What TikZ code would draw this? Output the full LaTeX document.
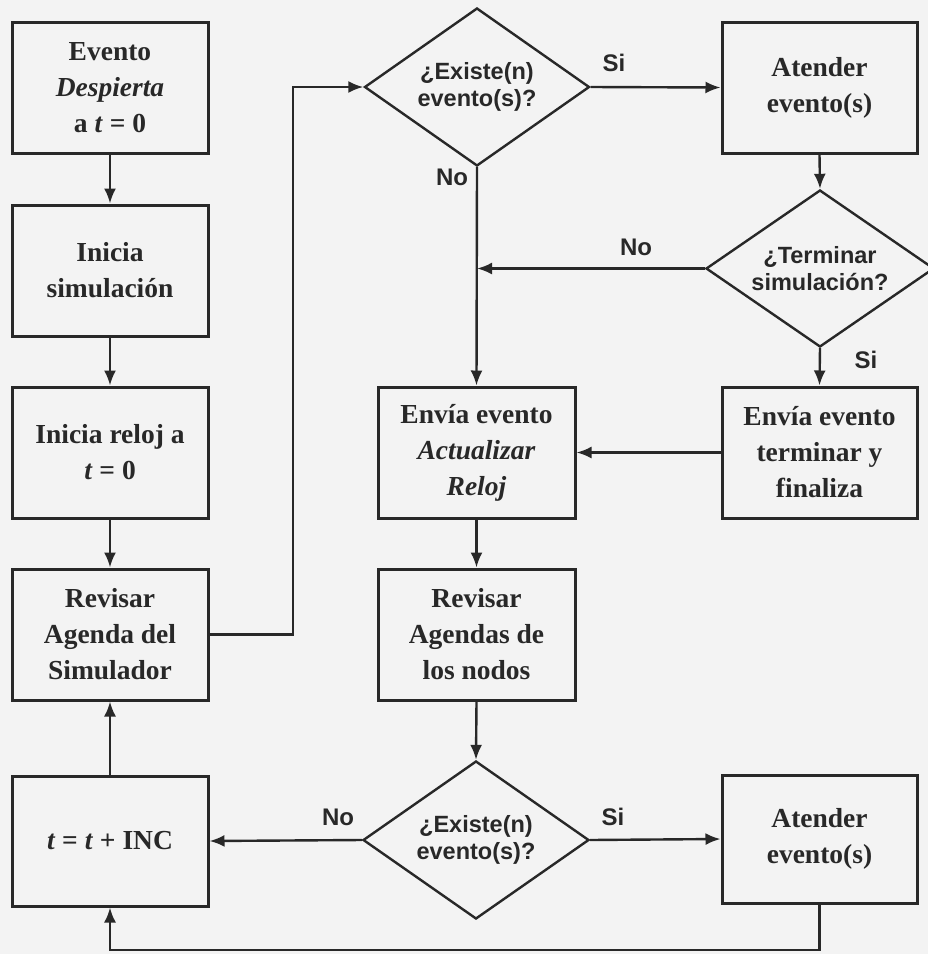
\documentclass[tikz,border=0pt]{standalone}
\usepackage{fontspec}
\setmainfont{Liberation Serif}
\setsansfont{Liberation Sans}
\usetikzlibrary{shapes.geometric,arrows.meta,calc}
\definecolor{ink}{RGB}{40,40,40}
\definecolor{paper}{RGB}{243,243,243}
\tikzset{
  procbox/.style={draw=ink, line width=3pt, minimum width=196pt, minimum height=131pt,
    inner sep=0pt, align=center, text=ink, font=\bfseries\fontsize{27.5}{36}\selectfont},
  decision/.style={diamond, aspect=1.43, draw=ink, line width=2.4pt, minimum width=226pt, minimum height=158pt,
    inner sep=0pt, align=center, text=ink, font=\sffamily\bfseries\fontsize{23.5}{27}\selectfont},
  flow/.style={draw=ink, line width=2.4pt, -{Latex[length=15pt,width=12pt]}},
  lbl/.style={text=ink, font=\sffamily\bfseries\fontsize{24}{27}\selectfont, inner sep=0pt},
}
\begin{document}
\begin{tikzpicture}[x=1pt,y=-1pt]
\fill[paper] (0,0) rectangle (928,954);
\useasboundingbox (0,0) rectangle (928,954);

% left column
\node[procbox] (b1) at (110,87.5) {Evento\\\textit{Despierta}\\a \textit{t} = 0};
\node[procbox] (b2) at (110,270.5) {Inicia\\simulación};
\node[procbox] (b3) at (110,452.5) {Inicia reloj a\\\textit{t} = 0};
\node[procbox] (b4) at (110,634.5) {Revisar\\Agenda del\\Simulador};
\node[procbox, minimum height=130pt] (b5) at (110,841) {\textit{t} = \textit{t} + INC};

% middle column
\node[decision, minimum width=225pt] (d1) at (477,87) {¿Existe(n)\\evento(s)?};
\node[procbox, minimum width=197pt] (r) at (476.5,452.5) {Envía evento\\\textit{Actualizar}\\\textit{Reloj}};
\node[procbox, minimum width=197pt] (g) at (476.5,634.5) {Revisar\\Agendas de\\los nodos};
\node[decision] (d3) at (476,840) {¿Existe(n)\\evento(s)?};

% right column
\node[procbox, minimum width=195pt] (a1) at (819.5,87.5) {Atender\\evento(s)};
\node[decision, minimum width=228pt, minimum height=157pt] (d2) at (820,268.5) {¿Terminar\\simulación?};
\node[procbox, minimum width=195pt] (f) at (819.5,452.5) {Envía evento\\terminar y\\finaliza};
\node[procbox, minimum width=195pt, minimum height=128pt] (a2) at (819.5,839) {Atender\\evento(s)};

\coordinate (jx) at (293,0);
\coordinate (bot) at (0,950);

% connectors
\draw[flow] (b1.south) -- (b2.north);
\draw[flow] (b2.south) -- (b3.north);
\draw[flow] (b3.south) -- (b4.north);
\draw[flow] (b5.north) -- (b4.south);
\draw[flow] (b4.east) -- (b4.east -| jx) |- (d1.west);
\draw[flow] (d1.east) -- (a1.west);
\draw[flow] (a1.south) -- (d2.north);
\draw[flow] (d2.west) -- (d2.west -| d1.south);
\draw[flow] (d1.south) -- (r.north);
\draw[flow] (d2.south) -- (f.north);
\draw[flow] (f.west) -- (r.east);
\draw[flow] (r.south) -- (g.north);
\draw[flow] (g.south) -- (d3.north);
\draw[flow] (d3.west) -- (b5.east);
\draw[flow] (d3.east) -- (a2.west);
\draw[flow] (a2.south) -- (a2.south |- bot) -| (b5.south);

% labels
\node[lbl] (lsi1) at (614,63) {Si};
\node[lbl] (lno1) at (452,177) {No};
\node[lbl] (lno2) at (636,247) {No};
\node[lbl] (lsi2) at (866,360) {Si};
\node[lbl] (lno3) at (338,817) {No};
\node[lbl] (lsi3) at (613,817) {Si};
\end{tikzpicture}
\end{document}
